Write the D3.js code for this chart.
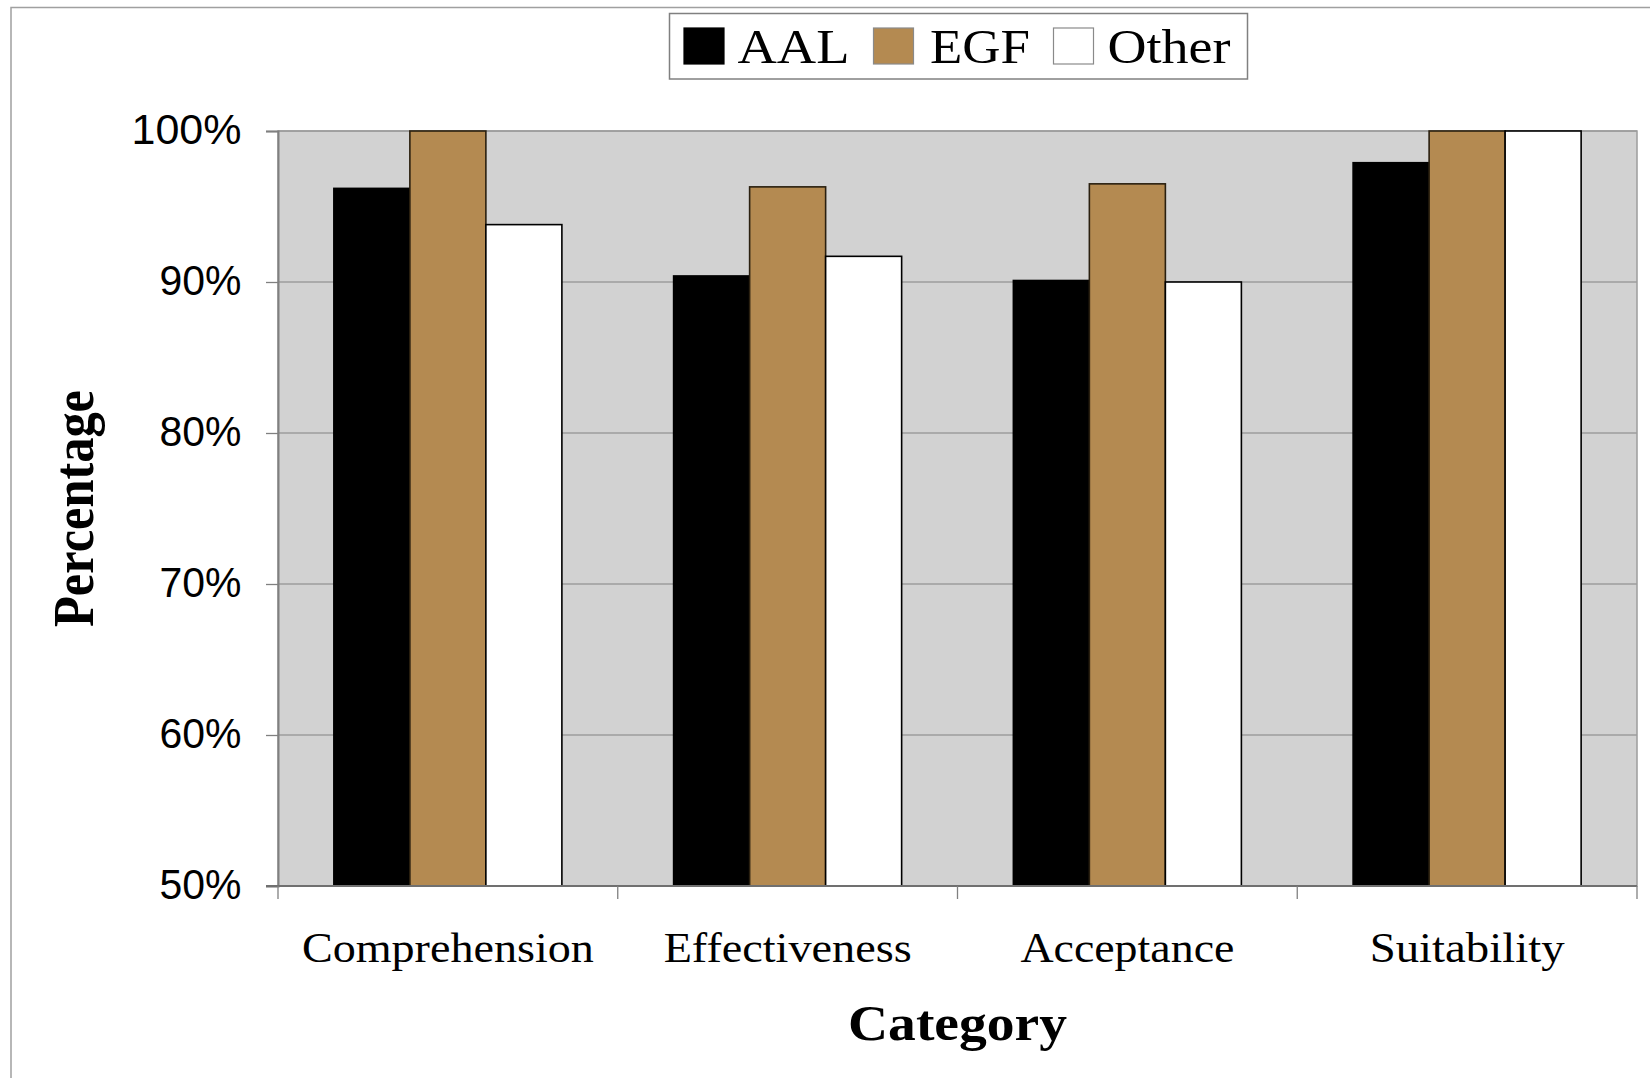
<!DOCTYPE html>
<html>
<head>
<meta charset="utf-8">
<script src="https://cdn.jsdelivr.net/npm/d3@7/dist/d3.min.js"></script>
<style>
  html, body { margin: 0; padding: 0; background: #ffffff; }
  svg { display: block; }
</style>
</head>
<body>
<svg id="chart" width="1650" height="1078"></svg>
<script>
// Survey results by category, in percent
const categories = ["Comprehension", "Effectiveness", "Acceptance", "Suitability"];
const seriesNames = ["AAL", "EGF", "Other"];
const aalValues = [96.2, 90.4, 90.1, 97.9];
const egfValues = [100, 96.3, 96.5, 100];
const otherValues = [93.8, 91.7, 90.0, 100];
const yTicks = [50, 60, 70, 80, 90, 100];

const seriesValues = { AAL: aalValues, EGF: egfValues, Other: otherValues };
const seriesFill = { AAL: "#000000", EGF: "#b48a51", Other: "#ffffff" };
const seriesStroke = { AAL: "#000000", EGF: "#2a2010", Other: "#000000" };

const svg = d3.select("#chart");
const plot = { left: 278, right: 1637, top: 131, bottom: 886 };

// outer chart frame
svg.append("rect")
  .attr("x", 11).attr("y", 7.5)
  .attr("width", 1700).attr("height", 1200)
  .attr("fill", "#ffffff").attr("stroke", "#a0a0a0").attr("stroke-width", 1.5);

const x0 = d3.scaleBand().domain(categories).range([plot.left, plot.right]).paddingInner(0).paddingOuter(0);
const x1 = d3.scaleBand().domain(seriesNames).range([0, x0.bandwidth()]).paddingInner(0).paddingOuter(0.735);
const y = d3.scaleLinear().domain([50, 100]).range([plot.bottom, plot.top]);

// plot area
svg.append("rect")
  .attr("x", plot.left).attr("y", plot.top)
  .attr("width", plot.right - plot.left).attr("height", plot.bottom - plot.top)
  .attr("fill", "#d2d2d2").attr("stroke", "#9c9c9c").attr("stroke-width", 1.5);

// gridlines
svg.append("g").selectAll("line").data(yTicks.filter(t => t > 50)).join("line")
  .attr("x1", plot.left).attr("x2", plot.right)
  .attr("y1", d => y(d)).attr("y2", d => y(d))
  .attr("stroke", "#9c9c9c").attr("stroke-width", 1.5);

// bars
const groups = svg.append("g").selectAll("g").data(categories).join("g")
  .attr("transform", d => `translate(${x0(d)},0)`);
groups.selectAll("rect")
  .data((c, i) => seriesNames.map(s => ({ s, v: seriesValues[s][i] })))
  .join("rect")
  .attr("x", d => x1(d.s))
  .attr("width", x1.bandwidth())
  .attr("y", d => y(d.v))
  .attr("height", d => y(50) - y(d.v))
  .attr("fill", d => seriesFill[d.s])
  .attr("stroke", d => seriesStroke[d.s])
  .attr("stroke-width", 1.6);

// y axis
const yAxis = d3.axisLeft(y).tickValues(yTicks).tickSize(12).tickPadding(24)
  .tickFormat(d => d + "%");
const gy = svg.append("g").attr("transform", `translate(${plot.left},0)`).call(yAxis);
gy.select(".domain").attr("stroke", "#808080").attr("stroke-width", 2);
gy.selectAll(".tick line").attr("stroke", "#808080").attr("stroke-width", 1.3);
gy.selectAll(".tick text")
  .attr("font-family", "'Liberation Sans', Arial, sans-serif")
  .attr("font-size", 43).attr("fill", "#000")
  .attr("textLength", d => d === 100 ? 110 : 82)
  .attr("lengthAdjust", "spacingAndGlyphs")
  .attr("dy", "0.3em").attr("x", -36.5);

// x axis: ticks on category boundaries
svg.append("line")
  .attr("x1", plot.left - 12).attr("x2", plot.right)
  .attr("y1", plot.bottom).attr("y2", plot.bottom)
  .attr("stroke", "#707070").attr("stroke-width", 2);
const bounds = categories.map(c => x0(c)).concat([x0(categories[categories.length - 1]) + x0.bandwidth()]);
svg.append("g").selectAll("line").data(bounds).join("line")
  .attr("x1", d => d).attr("x2", d => d)
  .attr("y1", plot.bottom).attr("y2", plot.bottom + 13)
  .attr("stroke", "#808080").attr("stroke-width", 1.3);

const catWidths = { Comprehension: 292, Effectiveness: 248, Acceptance: 214, Suitability: 195 };
svg.append("g").selectAll("text").data(categories).join("text")
  .attr("x", d => x0(d) + x0.bandwidth() / 2 - catWidths[d] / 2)
  .attr("y", 962)
  .attr("font-family", "'Liberation Serif', 'Times New Roman', serif")
  .attr("font-size", 43)
  .attr("textLength", d => catWidths[d])
  .attr("lengthAdjust", "spacingAndGlyphs")
  .text(d => d);

// axis titles
svg.append("text")
  .attr("x", (plot.left + plot.right) / 2 - 109.5).attr("y", 1040)
  .attr("font-family", "'Liberation Serif', 'Times New Roman', serif")
  .attr("font-weight", "bold").attr("font-size", 50)
  .attr("textLength", 219).attr("lengthAdjust", "spacingAndGlyphs")
  .text("Category");

svg.append("text")
  .attr("transform", `translate(93,${(plot.top + plot.bottom) / 2 + 118.5}) rotate(-90)`)
  .attr("font-family", "'Liberation Serif', 'Times New Roman', serif")
  .attr("font-weight", "bold").attr("font-size", 56)
  .attr("textLength", 237).attr("lengthAdjust", "spacingAndGlyphs")
  .text("Percentage");

// legend
const legend = svg.append("g");
legend.append("rect")
  .attr("x", 669.5).attr("y", 13.5).attr("width", 578).attr("height", 65.5)
  .attr("fill", "#ffffff").attr("stroke", "#808080").attr("stroke-width", 1.5);
const legendItems = [
  { s: "AAL", sx: 684, tx: 737.5, tw: 112 },
  { s: "EGF", sx: 873.5, tx: 930, tw: 100 },
  { s: "Other", sx: 1053.5, tx: 1107.5, tw: 123 }
];
legend.selectAll("rect.sw").data(legendItems).join("rect")
  .attr("class", "sw")
  .attr("x", d => d.sx).attr("y", 28)
  .attr("width", 40).attr("height", 36)
  .attr("fill", d => seriesFill[d.s])
  .attr("stroke", d => d.s === "AAL" ? "#000" : "#8a8a8a").attr("stroke-width", 1.2);
legend.selectAll("text").data(legendItems).join("text")
  .attr("x", d => d.tx).attr("y", 62.5)
  .attr("font-family", "'Liberation Serif', 'Times New Roman', serif")
  .attr("font-size", 49)
  .attr("textLength", d => d.tw).attr("lengthAdjust", "spacingAndGlyphs")
  .text(d => d.s);
</script>
</body>
</html>
